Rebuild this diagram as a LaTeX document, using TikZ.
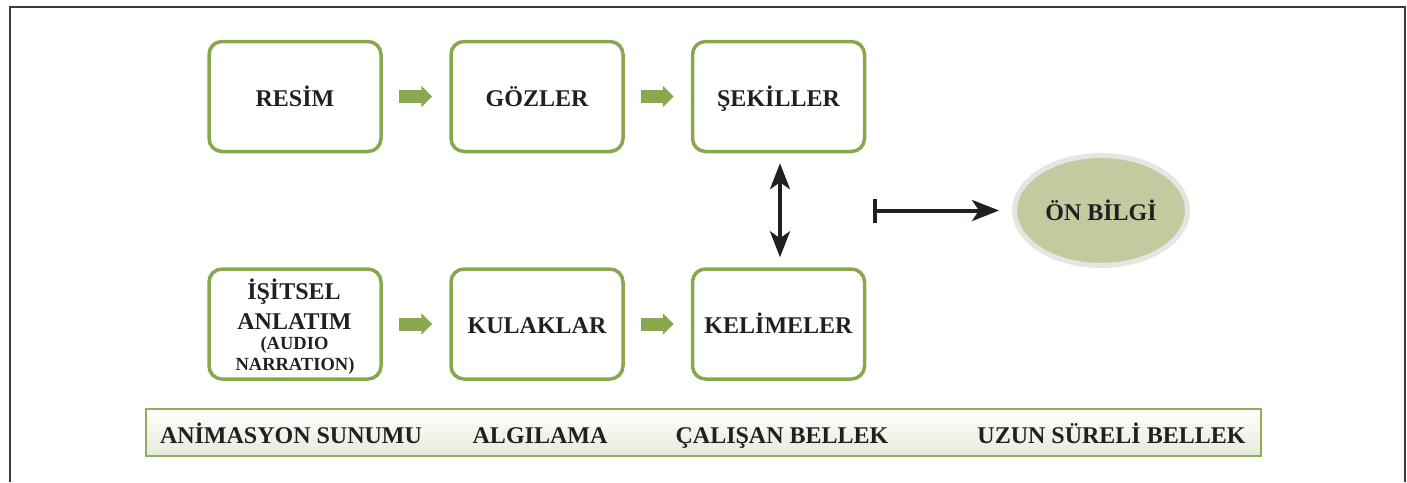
\documentclass[tikz,border=0pt]{standalone}
\usepackage{fontspec}
\setmainfont{Liberation Serif}
\usetikzlibrary{arrows.meta,shapes.geometric}
\definecolor{boxgreen}{HTML}{88A74E}
\definecolor{arrowgreen}{HTML}{8AA84F}
\definecolor{ovalfill}{HTML}{C1CB9F}
\definecolor{ovalline}{HTML}{E5E6E3}
\definecolor{bandbottom}{HTML}{E6EADA}
\definecolor{bandline}{HTML}{8FAE55}
\definecolor{frameline}{HTML}{3A3A3A}
\definecolor{ink}{HTML}{231F20}
\newcommand{\bigline}{\fontsize{24}{31}\selectfont\bfseries}
\newcommand{\smallline}{\fontsize{18.5}{22}\selectfont\bfseries}
\tikzset{
  box/.style={draw=boxgreen, line width=3.5pt, rounded corners=13pt, minimum width=172pt,
    minimum height=110pt, inner sep=0pt, text=ink, text height=19pt, text depth=0pt,
    font=\bigline},
  linetext/.style={text=ink, inner sep=0pt, anchor=base},
  greenarrow/.style={draw=arrowgreen, line width=13pt, -{Triangle[length=11pt,width=21pt]}},
  blackarrow/.style={draw=ink, line width=3.5pt},
  bandtext/.style={text=ink, font=\bigline, inner sep=0pt, anchor=base},
}
\begin{document}
\begin{tikzpicture}[x=1pt,y=-1pt]
\useasboundingbox (0,0) rectangle (1407,482);
\draw[frameline, line width=2pt] (10,482) -- (10,7) -- (1405,7) -- (1405,482);
% boxes
\node[box] (resim) at (295,96.5) {RESİM};
\node[box] (gozler) at (537,96.5) {GÖZLER};
\node[box] (sekil) at (778.5,96.5) {ŞEKİLLER};
\node[box] (isitsel) at (295,324) {};
\node[linetext, font=\bigline] (isitsel1) at (294,299) {İŞİTSEL};
\node[linetext, font=\bigline] (isitsel2) at (294.5,329) {ANLATIM};
\node[linetext, font=\smallline] (isitsel3) at (294.5,349) {(AUDIO};
\node[linetext, font=\smallline] (isitsel4) at (295,370) {NARRATION)};
\node[box] (kulak) at (537,324) {KULAKLAR};
\node[box] (kelime) at (778.5,324) {KELİMELER};
% oval
\node[ellipse, draw=ovalline, fill=ovalfill, line width=5pt, minimum width=173pt, minimum height=110pt,
  inner sep=0pt, text=ink, text height=19pt, text depth=0pt, font=\bigline] (onbilgi) at (1101,210.5) {ÖN BİLGİ};
% green arrows
\draw[greenarrow] ([xshift=16pt]resim.east) -- ([xshift=-17pt]gozler.west);
\draw[greenarrow] ([xshift=16pt]gozler.east) -- ([xshift=-17pt]sekil.west);
\draw[greenarrow] ([xshift=16pt]isitsel.east) -- ([xshift=-17pt]kulak.west);
\draw[greenarrow] ([xshift=16pt]kulak.east) -- ([xshift=-17pt]kelime.west);
% double arrow
\draw[blackarrow, {Stealth[length=26pt,width=20pt,inset=7pt]}-{Stealth[length=26pt,width=20pt,inset=7pt]}]
  ([xshift=1.5pt,yshift=-10pt]sekil.south) -- ([xshift=1.5pt,yshift=10pt]kelime.north);
% bar arrow
\coordinate (barstart) at (873,210.5);
\draw[blackarrow, line width=4pt, {Bar[width=24pt]}-{Stealth[length=27pt,width=21pt,inset=7pt]}]
  (barstart) -- ([xshift=-13pt]onbilgi.west);
% band
\node[draw=bandline, line width=1.5pt, top color=white, bottom color=bandbottom,
  minimum width=1115pt, minimum height=47pt, inner sep=0pt] (band) at (703.5,432.5) {};
\node[bandtext] (t1) at (291,443) {ANİMASYON SUNUMU};
\node[bandtext] (t2) at (540,443) {ALGILAMA};
\node[bandtext] (t3) at (782,443) {ÇALIŞAN BELLEK};
\node[bandtext] (t4) at (1111.5,443) {UZUN SÜRELİ BELLEK};
\end{tikzpicture}
\end{document}
